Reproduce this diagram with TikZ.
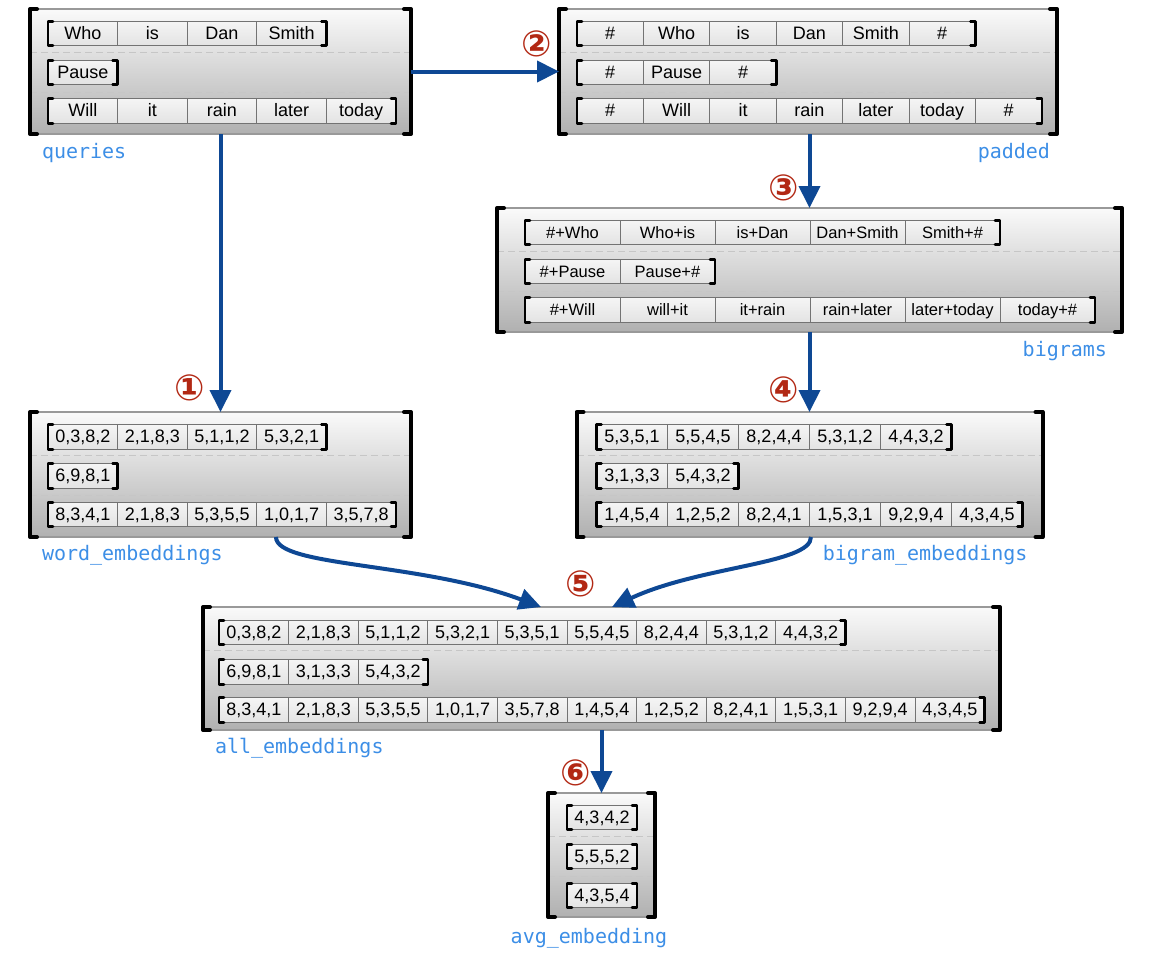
\documentclass[tikz,border=0pt]{standalone}
\usepackage{fontspec}
\setmainfont{Liberation Sans}
\newfontfamily\lblfont{DejaVu Sans Mono}
\newfontfamily\stepfont{DejaVu Sans}
\usetikzlibrary{positioning,arrows.meta}
\definecolor{flowblue}{RGB}{14,72,148}
\definecolor{lblblue}{RGB}{60,142,230}
\definecolor{stepred}{RGB}{178,40,20}

% one row of cells between brackets: [extra style]{name}{left end}{cell width}{cells}
\newcommand\cellrow[5][]{%
  \coordinate (#20) at #3;
  \foreach \w [count=\i, remember=\i as \j (initially 0)] in {#5}{
    \node[cell,#1,minimum width=#4,right=0pt of #2\j] (#2\i) {\w};
    \xdef\lastcell{#2\i}}
  \draw[rowbracket] ([shift={(5,0)}]#21.north west) -- (#21.north west) -- (#21.south west) -- ++(5,0);
  \draw[rowbracket] ([shift={(-5,0)}]\lastcell.north east) -- (\lastcell.north east) -- (\lastcell.south east) -- ++(-5,0);
}
% dashed row separators and outer brackets of a panel
\newcommand\panelframe[1]{%
  \draw[sepline] ([shift={(0,43)}]#1.north west) -- ([shift={(0,43)}]#1.north east);
  \draw[sepline] ([shift={(0,83)}]#1.north west) -- ([shift={(0,83)}]#1.north east);
  \draw[bigbracket] ([shift={(7,0)}]#1.north west) -- (#1.north west) -- (#1.south west) -- ++(7,0);
  \draw[bigbracket] ([shift={(-7,0)}]#1.north east) -- (#1.north east) -- (#1.south east) -- ++(-7,0);
}

\begin{document}
\begin{tikzpicture}[x=1pt,y=-1pt,every node/.style={outer sep=0pt},
 panel/.style={draw=black!40,line width=1.2pt,top color=gray!4,bottom color=gray!62,inner sep=0pt},
 cell/.style={draw=black!55,top color=gray!8,bottom color=gray!22,line width=0.9pt,minimum height=24.5pt,inner sep=0pt,
  text height=13pt,text depth=2pt,font=\fontsize{18}{20}\selectfont},
 rowbracket/.style={line width=2.6pt,line cap=round,line join=round},
 bigbracket/.style={line width=4pt,line cap=round,line join=round},
 sepline/.style={draw=gray!45,line width=1pt,dash pattern=on 7pt off 4pt},
 lbl/.style={text=lblblue,font=\lblfont\fontsize{20}{22}\selectfont,inner sep=0pt},
 stepnum/.style={text=stepred,font=\stepfont\bfseries\fontsize{36}{38}\selectfont,inner sep=0pt},
 flow/.style={draw=flowblue,line width=4pt,-{Triangle[length=22pt,width=21pt]}}]

 \useasboundingbox (0,0) rectangle (1149,967);

 % panels
 \node[panel,minimum width=381pt,minimum height=125pt] (queries) at (220.5,71.5) {};
 \node[panel,minimum width=498pt,minimum height=125pt] (padded) at (808,71.5) {};
 \node[panel,minimum width=625pt,minimum height=124pt] (bigrams) at (809.5,270) {};
 \node[panel,minimum width=381pt,minimum height=125pt] (wordemb) at (220.5,474.5) {};
 \node[panel,minimum width=466pt,minimum height=125pt] (bigramemb) at (809.5,474.5) {};
 \node[panel,minimum width=797pt,minimum height=123pt] (allemb) at (601.5,668.5) {};
 \node[panel,minimum width=107pt,minimum height=124pt] (avgemb) at (601.5,855) {};
 \foreach \p in {queries,padded,bigrams,wordemb,bigramemb,allemb,avgemb}
  \panelframe{\p};

 % queries
 \cellrow{qa}{([shift={(18,24.5)}]queries.north west)}{69.6pt}{Who,is,Dan,Smith}
 \cellrow{qb}{([shift={(18,63.5)}]queries.north west)}{69.6pt}{Pause}
 \cellrow{qc}{([shift={(18,102)}]queries.north west)}{69.6pt}{Will,it,rain,later,today}
 % padded
 \cellrow{pa}{([shift={(18,24.5)}]padded.north west)}{66.4pt}{\#,Who,is,Dan,Smith,\#}
 \cellrow{pb}{([shift={(18,63.5)}]padded.north west)}{66.4pt}{\#,Pause,\#}
 \cellrow{pc}{([shift={(18,102)}]padded.north west)}{66.4pt}{\#,Will,it,rain,later,today,\#}
 % bigrams
 \cellrow[font=\fontsize{16.5}{18}\selectfont]{ba}{([shift={(28,24.5)}]bigrams.north west)}{95pt}
  {\#+Who,Who+is,is+Dan,Dan+Smith,Smith+\#}
 \cellrow[font=\fontsize{16.5}{18}\selectfont]{bb}{([shift={(28,63.5)}]bigrams.north west)}{95pt}
  {\#+Pause,Pause+\#}
 \cellrow[font=\fontsize{16.5}{18}\selectfont]{bc}{([shift={(28,102)}]bigrams.north west)}{95pt}
  {\#+Will,will+it,it+rain,rain+later,later+today,today+\#}
 % word embeddings
 \cellrow{wa}{([shift={(18,25)}]wordemb.north west)}{69.6pt}{{0,3,8,2},{2,1,8,3},{5,1,1,2},{5,3,2,1}}
 \cellrow{wb}{([shift={(18,64)}]wordemb.north west)}{69.6pt}{{6,9,8,1}}
 \cellrow{wc}{([shift={(18,102.5)}]wordemb.north west)}{69.6pt}{{8,3,4,1},{2,1,8,3},{5,3,5,5},{1,0,1,7},{3,5,7,8}}
 % bigram embeddings
 \cellrow{ea}{([shift={(20,25)}]bigramemb.north west)}{71pt}{{5,3,5,1},{5,5,4,5},{8,2,4,4},{5,3,1,2},{4,4,3,2}}
 \cellrow{eb}{([shift={(20,64)}]bigramemb.north west)}{71pt}{{3,1,3,3},{5,4,3,2}}
 \cellrow{ec}{([shift={(20,102.5)}]bigramemb.north west)}{71pt}{{1,4,5,4},{1,2,5,2},{8,2,4,1},{1,5,3,1},{9,2,9,4},{4,3,4,5}}
 % all embeddings
 \cellrow{aa}{([shift={(16,25.5)}]allemb.north west)}{69.6pt}
  {{0,3,8,2},{2,1,8,3},{5,1,1,2},{5,3,2,1},{5,3,5,1},{5,5,4,5},{8,2,4,4},{5,3,1,2},{4,4,3,2}}
 \cellrow{ab}{([shift={(16,65)}]allemb.north west)}{69.6pt}{{6,9,8,1},{3,1,3,3},{5,4,3,2}}
 \cellrow{ac}{([shift={(16,103)}]allemb.north west)}{69.6pt}
  {{8,3,4,1},{2,1,8,3},{5,3,5,5},{1,0,1,7},{3,5,7,8},{1,4,5,4},{1,2,5,2},{8,2,4,1},{1,5,3,1},{9,2,9,4},{4,3,4,5}}
 % avg embedding
 \cellrow{va}{([shift={(19,24.5)}]avgemb.north west)}{70pt}{{4,3,4,2}}
 \cellrow{vb}{([shift={(19,63.5)}]avgemb.north west)}{70pt}{{5,5,5,2}}
 \cellrow{vc}{([shift={(19,102.5)}]avgemb.north west)}{70pt}{{4,3,5,4}}

 % names
 \node[lbl,anchor=west] (queries-lbl) at ([shift={(12,19)}]queries.south west) {queries};
 \node[lbl,anchor=east] (padded-lbl) at ([shift={(-7,19)}]padded.south east) {padded};
 \node[lbl,anchor=east] (bigrams-lbl) at ([shift={(-15,19)}]bigrams.south east) {bigrams};
 \node[lbl,anchor=west] (wordemb-lbl) at ([shift={(12,18)}]wordemb.south west) {word\_embeddings};
 \node[lbl,anchor=east] (bigramemb-lbl) at ([shift={(-15,18)}]bigramemb.south east) {bigram\_embeddings};
 \node[lbl,anchor=west] (allemb-lbl) at ([shift={(12,18)}]allemb.south west) {all\_embeddings};
 \node[lbl] (avgemb-lbl) at ([shift={(-12.5,21)}]avgemb.south) {avg\_embedding};

 % flow
 \draw[flow] (queries) -- (wordemb);
 \draw[flow] (queries) -- (padded);
 \draw[flow] (bigrams.north |- padded.south) -- (bigrams);
 \draw[flow] (bigrams) -- (bigramemb);
 \draw[flow] ([xshift=55.5pt]wordemb.south) .. controls +(0,30) and +(-120,-45) .. ([xshift=-60.5pt]allemb.north);
 \draw[flow] ([xshift=1.5pt]bigramemb.south) .. controls +(0,27) and +(88,-41) .. ([xshift=10.5pt]allemb.north);
 \draw[flow] (allemb) -- (avgemb);

 \node[stepnum] (s1) at (190,388) {①};
 \node[stepnum] (s2) at (537,44) {②};
 \node[stepnum] (s3) at (784,188) {③};
 \node[stepnum] (s4) at (784,390) {④};
 \node[stepnum] (s5) at (581,584) {⑤};
 \node[stepnum] (s6) at (576,773) {⑥};

\end{tikzpicture}
\end{document}
